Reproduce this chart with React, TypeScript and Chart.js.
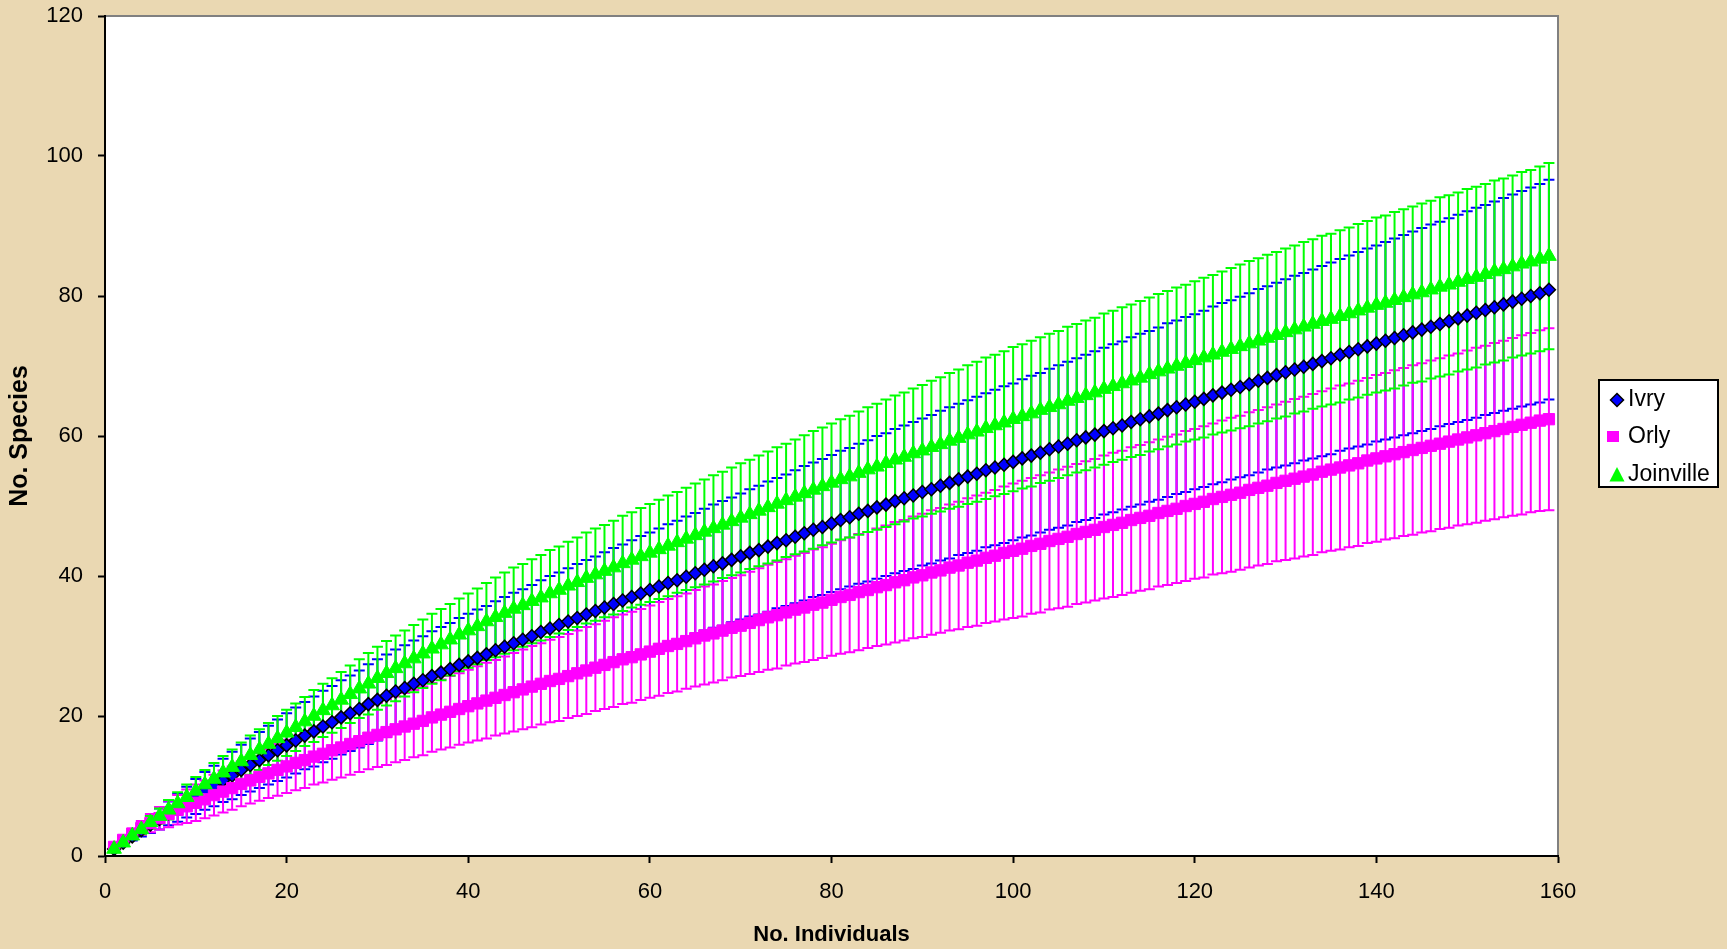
import React, { useEffect, useRef } from 'react';
import { Chart, registerables } from 'chart.js';

Chart.register(...registerables);

const SERIES_NAMES = ['Ivry', 'Orly', 'Joinville'];
const X_AXIS_TITLE = 'No. Individuals';
const Y_AXIS_TITLE = 'No. Species';

// Mean number of species for 1..159 individuals
const IVRY = [
  1.0, 1.9, 2.8, 3.7, 4.5, 5.3, 6.1, 6.9, 7.7, 8.5,
  9.3, 10.0, 10.8, 11.5, 12.3, 13.0, 13.7, 14.4, 15.1, 15.8,
  16.5, 17.2, 17.8, 18.5, 19.1, 19.8, 20.4, 21.0, 21.7, 22.3,
  22.9, 23.5, 24.0, 24.6, 25.1, 25.7, 26.2, 26.7, 27.3, 27.8,
  28.3, 28.8, 29.4, 29.9, 30.4, 30.9, 31.4, 32.0, 32.5, 33.0,
  33.5, 34.0, 34.5, 35.0, 35.5, 36.0, 36.5, 37.0, 37.5, 38.0,
  38.5, 39.0, 39.4, 39.9, 40.4, 40.9, 41.4, 41.8, 42.3, 42.8,
  43.3, 43.7, 44.2, 44.7, 45.1, 45.6, 46.1, 46.6, 47.0, 47.5,
  48.0, 48.4, 48.9, 49.3, 49.8, 50.2, 50.7, 51.1, 51.5, 52.0,
  52.4, 52.9, 53.3, 53.8, 54.2, 54.6, 55.1, 55.5, 55.9, 56.3,
  56.8, 57.2, 57.6, 58.1, 58.5, 58.9, 59.4, 59.8, 60.2, 60.7,
  61.1, 61.5, 62.0, 62.4, 62.8, 63.2, 63.7, 64.1, 64.5, 64.9,
  65.3, 65.8, 66.2, 66.6, 67.0, 67.4, 67.9, 68.3, 68.7, 69.1,
  69.5, 69.9, 70.3, 70.7, 71.1, 71.6, 72.0, 72.4, 72.8, 73.2,
  73.6, 74.0, 74.4, 74.8, 75.2, 75.6, 76.0, 76.4, 76.8, 77.2,
  77.6, 78.0, 78.4, 78.8, 79.2, 79.6, 80.0, 80.4, 80.9,
];

const ORLY = [
  1.3, 2.3, 3.2, 4.0, 4.7, 5.4, 6.0, 6.6, 7.1, 7.6,
  8.1, 8.7, 9.2, 9.7, 10.3, 10.8, 11.3, 11.8, 12.3, 12.8,
  13.3, 13.7, 14.2, 14.6, 15.1, 15.5, 16.0, 16.4, 16.9, 17.3,
  17.7, 18.1, 18.5, 18.9, 19.3, 19.8, 20.2, 20.6, 21.0, 21.4,
  21.8, 22.2, 22.6, 23.0, 23.4, 23.8, 24.2, 24.6, 25.0, 25.3,
  25.7, 26.1, 26.5, 26.9, 27.3, 27.7, 28.1, 28.4, 28.8, 29.2,
  29.6, 30.0, 30.3, 30.7, 31.1, 31.5, 31.8, 32.2, 32.6, 32.9,
  33.3, 33.7, 34.1, 34.4, 34.8, 35.2, 35.5, 35.9, 36.2, 36.6,
  37.0, 37.3, 37.7, 38.0, 38.4, 38.7, 39.1, 39.4, 39.8, 40.1,
  40.5, 40.8, 41.2, 41.5, 41.9, 42.2, 42.6, 42.9, 43.3, 43.6,
  43.9, 44.3, 44.6, 45.0, 45.3, 45.6, 46.0, 46.3, 46.6, 47.0,
  47.3, 47.6, 48.0, 48.3, 48.6, 49.0, 49.3, 49.6, 50.0, 50.3,
  50.6, 51.0, 51.3, 51.6, 51.9, 52.3, 52.6, 52.9, 53.3, 53.6,
  53.9, 54.2, 54.5, 54.9, 55.2, 55.5, 55.8, 56.1, 56.5, 56.8,
  57.1, 57.4, 57.7, 58.0, 58.3, 58.6, 58.9, 59.2, 59.5, 59.8,
  60.1, 60.4, 60.7, 61.0, 61.3, 61.6, 61.9, 62.2, 62.4,
];

const JOINVILLE = [
  1.0, 1.9, 2.9, 3.8, 4.8, 5.7, 6.6, 7.5, 8.4, 9.3,
  10.2, 11.0, 11.9, 12.7, 13.5, 14.4, 15.2, 16.0, 16.8, 17.6,
  18.4, 19.2, 20.0, 20.8, 21.5, 22.3, 23.1, 23.9, 24.6, 25.4,
  26.1, 26.8, 27.5, 28.2, 28.9, 29.6, 30.2, 30.9, 31.6, 32.2,
  32.8, 33.5, 34.1, 34.7, 35.3, 35.8, 36.4, 36.9, 37.5, 38.0,
  38.6, 39.1, 39.7, 40.2, 40.7, 41.2, 41.8, 42.3, 42.8, 43.3,
  43.8, 44.3, 44.8, 45.3, 45.8, 46.3, 46.8, 47.3, 47.8, 48.3,
  48.8, 49.3, 49.8, 50.3, 50.8, 51.3, 51.8, 52.3, 52.8, 53.3,
  53.8, 54.2, 54.7, 55.2, 55.6, 56.1, 56.6, 57.0, 57.5, 57.9,
  58.4, 58.8, 59.3, 59.7, 60.2, 60.6, 61.1, 61.5, 61.9, 62.4,
  62.8, 63.2, 63.7, 64.1, 64.5, 65.0, 65.4, 65.8, 66.2, 66.7,
  67.1, 67.5, 67.9, 68.3, 68.8, 69.2, 69.6, 70.0, 70.4, 70.8,
  71.2, 71.6, 72.0, 72.4, 72.8, 73.2, 73.6, 74.0, 74.4, 74.8,
  75.2, 75.6, 76.0, 76.4, 76.7, 77.1, 77.5, 77.9, 78.3, 78.7,
  79.0, 79.4, 79.8, 80.2, 80.5, 80.9, 81.3, 81.6, 82.0, 82.4,
  82.7, 83.1, 83.5, 83.8, 84.2, 84.6, 84.9, 85.3, 85.7,
];

// Error bar half-widths (+/-) for 1..159 individuals
const IVRY_ERR = [
  0.0, 0.3, 0.6, 0.9, 1.2, 1.5, 1.7, 2.0, 2.2, 2.5,
  2.7, 2.9, 3.1, 3.4, 3.6, 3.8, 4.0, 4.2, 4.4, 4.6,
  4.7, 4.8, 5.0, 5.1, 5.2, 5.3, 5.4, 5.5, 5.7, 5.8,
  5.9, 6.0, 6.1, 6.2, 6.3, 6.4, 6.5, 6.6, 6.7, 6.8,
  6.9, 6.9, 7.0, 7.1, 7.2, 7.2, 7.3, 7.4, 7.5, 7.5,
  7.6, 7.7, 7.8, 7.8, 7.9, 8.0, 8.0, 8.1, 8.2, 8.2,
  8.3, 8.4, 8.5, 8.6, 8.6, 8.7, 8.8, 8.9, 8.9, 9.0,
  9.1, 9.2, 9.3, 9.3, 9.4, 9.5, 9.6, 9.6, 9.7, 9.8,
  9.9, 9.9, 10.0, 10.1, 10.2, 10.2, 10.3, 10.4, 10.5, 10.5,
  10.6, 10.7, 10.8, 10.8, 10.9, 11.0, 11.0, 11.1, 11.2, 11.2,
  11.3, 11.4, 11.4, 11.5, 11.6, 11.7, 11.7, 11.8, 11.9, 11.9,
  12.0, 12.0, 12.1, 12.2, 12.2, 12.3, 12.4, 12.4, 12.5, 12.5,
  12.6, 12.7, 12.8, 12.8, 12.9, 13.0, 13.1, 13.1, 13.2, 13.3,
  13.4, 13.4, 13.5, 13.6, 13.7, 13.7, 13.8, 13.9, 14.0, 14.0,
  14.1, 14.2, 14.3, 14.4, 14.5, 14.6, 14.6, 14.7, 14.8, 14.9,
  15.0, 15.0, 15.1, 15.2, 15.3, 15.4, 15.5, 15.6, 15.7,
];

const ORLY_ERR = [
  0.0, 0.4, 0.7, 1.0, 1.3, 1.6, 1.9, 2.1, 2.4, 2.6,
  2.7, 2.9, 3.0, 3.1, 3.2, 3.3, 3.4, 3.5, 3.7, 3.8,
  3.9, 4.0, 4.0, 4.1, 4.2, 4.3, 4.4, 4.4, 4.5, 4.6,
  4.7, 4.7, 4.8, 4.8, 4.9, 4.9, 5.0, 5.1, 5.1, 5.2,
  5.3, 5.4, 5.4, 5.5, 5.6, 5.7, 5.8, 5.8, 5.9, 6.0,
  6.0, 6.1, 6.2, 6.2, 6.3, 6.4, 6.4, 6.5, 6.5, 6.6,
  6.7, 6.7, 6.8, 6.8, 6.9, 7.0, 7.0, 7.1, 7.1, 7.2,
  7.3, 7.4, 7.5, 7.6, 7.6, 7.7, 7.8, 7.9, 7.9, 8.0,
  8.1, 8.2, 8.3, 8.3, 8.4, 8.5, 8.6, 8.6, 8.7, 8.8,
  8.9, 8.9, 9.0, 9.1, 9.2, 9.3, 9.3, 9.4, 9.5, 9.6,
  9.7, 9.7, 9.8, 9.8, 9.9, 10.0, 10.0, 10.1, 10.1, 10.2,
  10.3, 10.3, 10.4, 10.4, 10.5, 10.5, 10.6, 10.6, 10.7, 10.7,
  10.8, 10.8, 10.9, 11.0, 11.0, 11.1, 11.1, 11.2, 11.2, 11.3,
  11.4, 11.4, 11.5, 11.5, 11.6, 11.7, 11.7, 11.8, 11.8, 11.9,
  11.9, 12.0, 12.0, 12.1, 12.1, 12.2, 12.2, 12.3, 12.3, 12.4,
  12.5, 12.5, 12.6, 12.6, 12.7, 12.8, 12.8, 12.9, 13.0,
];

const JOINVILLE_ERR = [
  0.0, 0.2, 0.5, 0.7, 0.9, 1.1, 1.4, 1.6, 1.8, 2.0,
  2.1, 2.3, 2.4, 2.5, 2.7, 2.8, 2.9, 3.0, 3.2, 3.3,
  3.4, 3.5, 3.7, 3.8, 3.9, 4.0, 4.1, 4.2, 4.4, 4.5,
  4.6, 4.7, 4.7, 4.8, 4.9, 5.0, 5.1, 5.1, 5.2, 5.3,
  5.4, 5.5, 5.7, 5.8, 5.9, 5.9, 6.0, 6.1, 6.2, 6.2,
  6.3, 6.4, 6.5, 6.6, 6.6, 6.7, 6.8, 6.8, 6.9, 7.0,
  7.1, 7.2, 7.2, 7.3, 7.4, 7.5, 7.6, 7.6, 7.7, 7.8,
  7.8, 7.9, 8.0, 8.1, 8.1, 8.2, 8.3, 8.4, 8.4, 8.5,
  8.6, 8.7, 8.8, 8.9, 9.0, 9.1, 9.2, 9.2, 9.3, 9.4,
  9.5, 9.6, 9.7, 9.8, 9.9, 10.0, 10.1, 10.1, 10.2, 10.3,
  10.3, 10.4, 10.4, 10.5, 10.5, 10.6, 10.6, 10.7, 10.7, 10.8,
  10.8, 10.9, 10.9, 11.0, 11.0, 11.1, 11.1, 11.2, 11.2, 11.3,
  11.4, 11.4, 11.5, 11.6, 11.7, 11.8, 11.8, 11.9, 11.9, 12.0,
  12.0, 12.1, 12.1, 12.2, 12.2, 12.3, 12.3, 12.4, 12.4, 12.5,
  12.5, 12.6, 12.6, 12.6, 12.7, 12.7, 12.8, 12.8, 12.8, 12.9,
  12.9, 12.9, 13.0, 13.0, 13.0, 13.1, 13.1, 13.2, 13.3,
];

const X_MIN = 0;
const X_MAX = 160;
const X_STEP = 20;
const Y_MIN = 0;
const Y_MAX = 120;
const Y_STEP = 20;

const COLORS = {
  ivryFill: '#0000FF',
  ivryBorder: '#000000',
  orly: '#FF00FF',
  joinville: '#00FF00',
  page: '#EAD8B2',
};

const FONT = '"Liberation Sans", Arial, sans-serif';

export default function App() {
  const ref = useRef<HTMLCanvasElement | null>(null);

  useEffect(() => {
    if (!ref.current) return;

    const toPoints = (arr: number[]) => arr.map((y, i) => ({ x: i + 1, y }));
    const errs = [IVRY_ERR, ORLY_ERR, JOINVILLE_ERR];
    const errColors = [COLORS.ivryFill, COLORS.orly, COLORS.joinville];

    const plotBg = {
      id: 'plotBg',
      beforeDraw(chart: any) {
        const { ctx, chartArea: a } = chart;
        ctx.save();
        ctx.fillStyle = '#FFFFFF';
        ctx.fillRect(a.left, a.top, a.right - a.left, a.bottom - a.top);
        ctx.strokeStyle = '#808080';
        ctx.lineWidth = 2;
        ctx.beginPath();
        ctx.moveTo(a.left, a.top);
        ctx.lineTo(a.right, a.top);
        ctx.lineTo(a.right, a.bottom);
        ctx.stroke();
        ctx.restore();
      },
    };

    const errorBars = {
      id: 'errorBars',
      beforeDatasetsDraw(chart: any) {
        const { ctx } = chart;
        const yScale = chart.scales.y;
        ctx.save();
        ctx.lineWidth = 2;
        for (let d = 0; d < 3; d++) {
          const meta = chart.getDatasetMeta(d);
          const vals = chart.data.datasets[d].data as { x: number; y: number }[];
          const e = errs[d];
          ctx.strokeStyle = errColors[d];
          ctx.beginPath();
          meta.data.forEach((pt: any, i: number) => {
            const v = vals[i].y;
            const top = yScale.getPixelForValue(v + e[i]);
            const bot = yScale.getPixelForValue(v - e[i]);
            const x = pt.x;
            ctx.moveTo(x, top);
            ctx.lineTo(x, bot);
            ctx.moveTo(x - 5.5, top);
            ctx.lineTo(x + 5.5, top);
            ctx.moveTo(x - 5.5, bot);
            ctx.lineTo(x + 5.5, bot);
          });
          ctx.stroke();
        }
        ctx.restore();
      },
    };

    const boxLegend = {
      id: 'boxLegend',
      afterDraw(chart: any) {
        const { ctx, chartArea: a } = chart;
        const left = a.right + 41;
        const top = 380;
        const w = 119;
        const h = 107;
        ctx.save();
        ctx.fillStyle = '#FFFFFF';
        ctx.fillRect(left, top, w, h);
        ctx.strokeStyle = '#000000';
        ctx.lineWidth = 2;
        ctx.strokeRect(left, top, w, h);

        const rows = [400, 437, 475];
        const mx = left + 18;
        // Ivry diamond
        ctx.beginPath();
        ctx.moveTo(mx, rows[0] - 6.5);
        ctx.lineTo(mx + 6.5, rows[0]);
        ctx.lineTo(mx, rows[0] + 6.5);
        ctx.lineTo(mx - 6.5, rows[0]);
        ctx.closePath();
        ctx.fillStyle = COLORS.ivryFill;
        ctx.fill();
        ctx.lineWidth = 1.5;
        ctx.strokeStyle = COLORS.ivryBorder;
        ctx.stroke();
        // Orly square
        ctx.fillStyle = COLORS.orly;
        ctx.fillRect(mx - 10, rows[1] - 6, 12, 11);
        // Joinville triangle
        ctx.beginPath();
        ctx.moveTo(mx, rows[2] - 8);
        ctx.lineTo(mx + 7.5, rows[2] + 6.5);
        ctx.lineTo(mx - 7.5, rows[2] + 6.5);
        ctx.closePath();
        ctx.fillStyle = COLORS.joinville;
        ctx.fill();

        ctx.fillStyle = '#000000';
        ctx.font = `23px ${FONT}`;
        ctx.textAlign = 'left';
        ctx.textBaseline = 'middle';
        const tx = left + 29;
        SERIES_NAMES.forEach((name, i) => ctx.fillText(name, tx, rows[i]));
        ctx.restore();
      },
    };

    const chart = new Chart(ref.current, {
      type: 'scatter',
      data: {
        datasets: [
          {
            label: SERIES_NAMES[0],
            data: toPoints(IVRY),
            showLine: false,
            pointStyle: 'rectRot',
            pointRadius: 6.5,
            pointBackgroundColor: COLORS.ivryFill,
            pointBorderColor: COLORS.ivryBorder,
            pointBorderWidth: 1.5,
            order: 2,
          },
          {
            label: SERIES_NAMES[1],
            data: toPoints(ORLY),
            showLine: false,
            pointStyle: 'rect',
            pointRadius: 8,
            pointBackgroundColor: COLORS.orly,
            pointBorderColor: COLORS.orly,
            pointBorderWidth: 1,
            order: 1,
          },
          {
            label: SERIES_NAMES[2],
            data: toPoints(JOINVILLE),
            showLine: false,
            pointStyle: 'triangle',
            pointRadius: 8.5,
            pointBackgroundColor: COLORS.joinville,
            pointBorderColor: COLORS.joinville,
            pointBorderWidth: 1,
            order: 0,
          },
        ],
      },
      options: {
        responsive: false,
        animation: false,
        devicePixelRatio: 1,
        events: [],
        layout: { padding: { left: 0, right: 169, top: 16, bottom: 0 } },
        plugins: {
          legend: { display: false },
          tooltip: { enabled: false },
        },
        scales: {
          x: {
            type: 'linear',
            min: X_MIN,
            max: X_MAX,
            afterFit: (s: any) => {
              s.height = 93;
              s.paddingLeft = 0;
              s.paddingRight = 0;
            },
            ticks: {
              stepSize: X_STEP,
              color: '#000',
              padding: 16,
              font: { family: FONT, size: 22 },
              maxRotation: 0,
            },
            grid: {
              display: true,
              drawOnChartArea: false,
              drawTicks: true,
              tickLength: 7,
              tickColor: '#000',
              tickWidth: 2,
            },
            border: { display: true, color: '#000', width: 2 },
            title: {
              display: true,
              text: X_AXIS_TITLE,
              color: '#000',
              font: { family: FONT, size: 22, weight: 'bold' },
              padding: { top: 0, bottom: 1 },
            },
          },
          y: {
            type: 'linear',
            min: Y_MIN,
            max: Y_MAX,
            afterFit: (s: any) => {
              s.width = 105;
              s.paddingTop = 0;
              s.paddingBottom = 0;
            },
            ticks: {
              stepSize: Y_STEP,
              color: '#000',
              padding: 15,
              font: { family: FONT, size: 22 },
            },
            grid: {
              display: true,
              drawOnChartArea: false,
              drawTicks: true,
              tickLength: 7,
              tickColor: '#000',
              tickWidth: 2,
            },
            border: { display: true, color: '#000', width: 2 },
            title: {
              display: true,
              text: Y_AXIS_TITLE,
              color: '#000',
              font: { family: FONT, size: 25, weight: 'bold' },
              padding: { top: 5, bottom: 0 },
            },
          },
        },
      },
      plugins: [plotBg, errorBars, boxLegend],
    } as any);

    return () => chart.destroy();
  }, []);

  return (
    <div
      style={{
        position: 'fixed',
        left: 0,
        top: 0,
        width: 1727,
        height: 949,
        background: COLORS.page,
        overflow: 'hidden',
      }}
    >
      <canvas
        ref={ref}
        width={1727}
        height={949}
        style={{ display: 'block', width: 1727, height: 949 }}
      />
    </div>
  );
}
